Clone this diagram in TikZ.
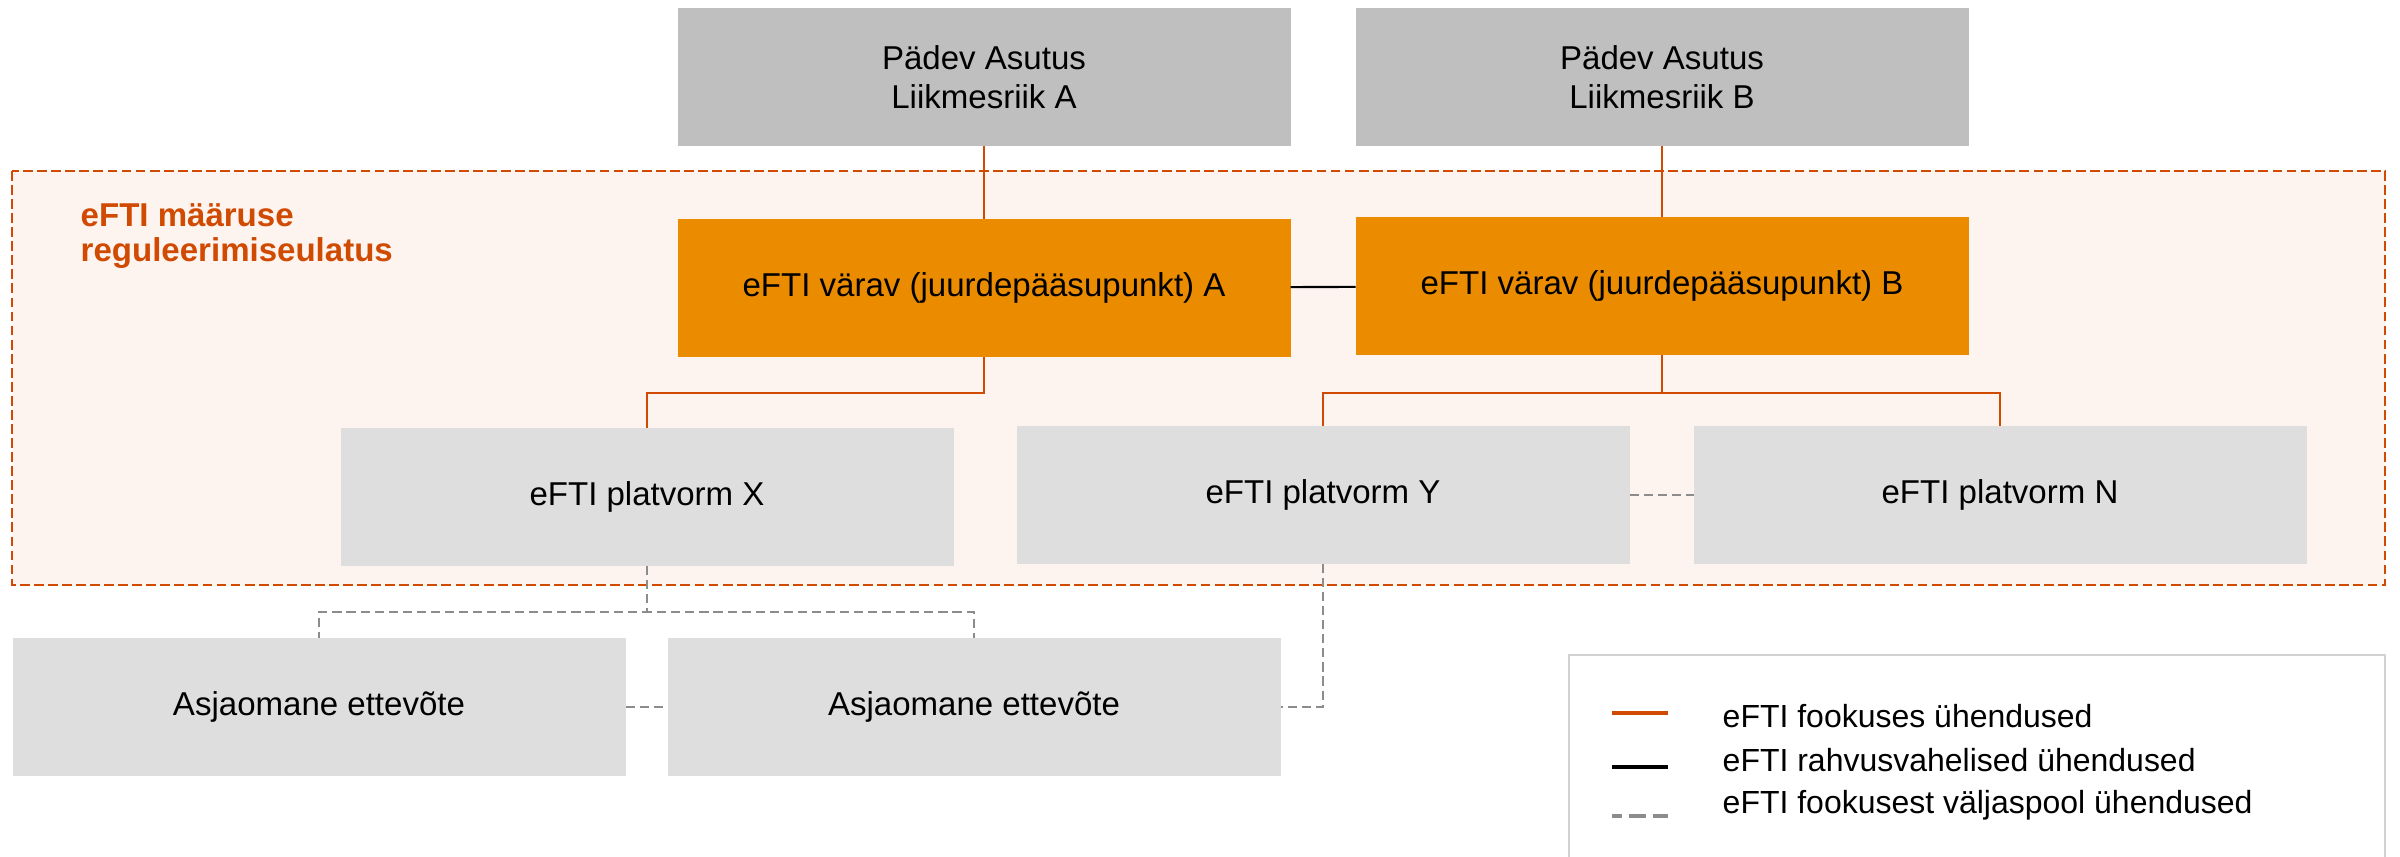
\documentclass[tikz,border=0pt]{standalone}
\usepackage{fontspec}
\setmainfont{Liberation Sans}
\usetikzlibrary{calc,positioning}

\definecolor{authgray}{RGB}{191,191,191}
\definecolor{platgray}{RGB}{222,222,222}
\definecolor{eftiorange}{RGB}{235,140,0}
\definecolor{eftired}{RGB}{208,74,2}
\definecolor{scopefill}{RGB}{253,244,240}
\definecolor{outgray}{RGB}{140,140,140}
\definecolor{legendgray}{RGB}{210,210,210}

\begin{document}
\begin{tikzpicture}[x=0.1mm,y=-0.1mm,
  block/.style={minimum width=61.3mm,minimum height=13.8mm,outer sep=0pt,inner sep=0pt,
    align=center,font=\fontsize{9.4}{11.1}\selectfont},
  authority/.style={block,fill=authgray},
  gateway/.style={block,fill=eftiorange},
  platform/.style={block,fill=platgray},
  focus/.style={draw=eftired,line width=0.6pt},
  intl/.style={draw=black,line width=0.6pt},
  outside/.style={draw=outgray,line width=0.6pt,dash pattern=on 2.6pt off 1.4pt},
  legendtext/.style={anchor=base west,inner sep=0pt,font=\fontsize{9.1}{10.8}\selectfont}]

        \useasboundingbox (0,0) rectangle (2400,857);

        % reguleerimisala
        \draw[draw=eftired,fill=scopefill,line width=0.6pt,dash pattern=on 2.8pt off 1.2pt]
          (12,171) rectangle (2385,585);
        \node (scope) [anchor=north west,inner sep=0pt,align=left,text=eftired,
          font=\fontsize{9.4}{10}\bfseries] at (80,203) {eFTI määruse\\reguleerimiseulatus};

        \node (pA) [authority] at (984,77) {Pädev Asutus\\Liikmesriik A};
        \node (pB) [authority] at (1662,77) {Pädev Asutus\\Liikmesriik B};

        \node (gA) [gateway] at (984,288) {eFTI värav (juurdepääsupunkt) A};
        \node (gB) [gateway] at (1662,286) {eFTI värav (juurdepääsupunkt) B};

        \node (X) [platform] at (647,497) {eFTI platvorm X};
        \node (Y) [platform] at (1323,495) {eFTI platvorm Y};
        \node (N) [platform] at (2000,495) {eFTI platvorm N};

        \node (c1) [platform] at (319,707) {Asjaomane ettevõte};
        \node (c2) [platform] at (974,707) {Asjaomane ettevõte};

        \draw[focus] (pA) -- (gA);
        \draw[focus] (pB) -- (gB);
        \draw[intl] (gA) -- (gB);

        \draw[focus] (gA.south) -- ++(0,36) -| (X.north);
        \draw[focus] (gB.south) -- ++(0,38) -| (Y.north);
        \draw[focus] (gB.south) -- ++(0,38) -| (N.north);

        \draw[outside] (Y) -- (N);
        \draw[outside] (X.south) -- ++(0,46) -| (c1.north);
        \draw[outside] (X.south) -- ++(0,46) -| (c2.north);
        \draw[outside] (c1) -- (c2);
        \draw[outside] (Y.south) |- (c2.east);

        % legend
        \draw[draw=legendgray,line width=0.6pt] (1569,880) |- (2385,655) -- (2385,880);
        \coordinate (l1) at (1612,713);
        \coordinate (l2) at (1612,767);
        \coordinate (l3) at (1612,816);
        \draw[focus,line width=0.9pt] (l1) -- ++(56,0);
        \draw[intl,line width=1pt] (l2) -- ++(56,0);
        \draw[outside,line width=0.9pt,dash pattern=on 4.8pt off 2pt,dash phase=2pt] (l3) -- ++(56,0);
        \node (t1) [legendtext] at (1722,727) {eFTI fookuses ühendused};
        \node (t2) [legendtext] at (1722,771) {eFTI rahvusvahelised ühendused};
        \node (t3) [legendtext] at (1722,813) {eFTI fookusest väljaspool ühendused};
      \end{tikzpicture}
\end{document}
